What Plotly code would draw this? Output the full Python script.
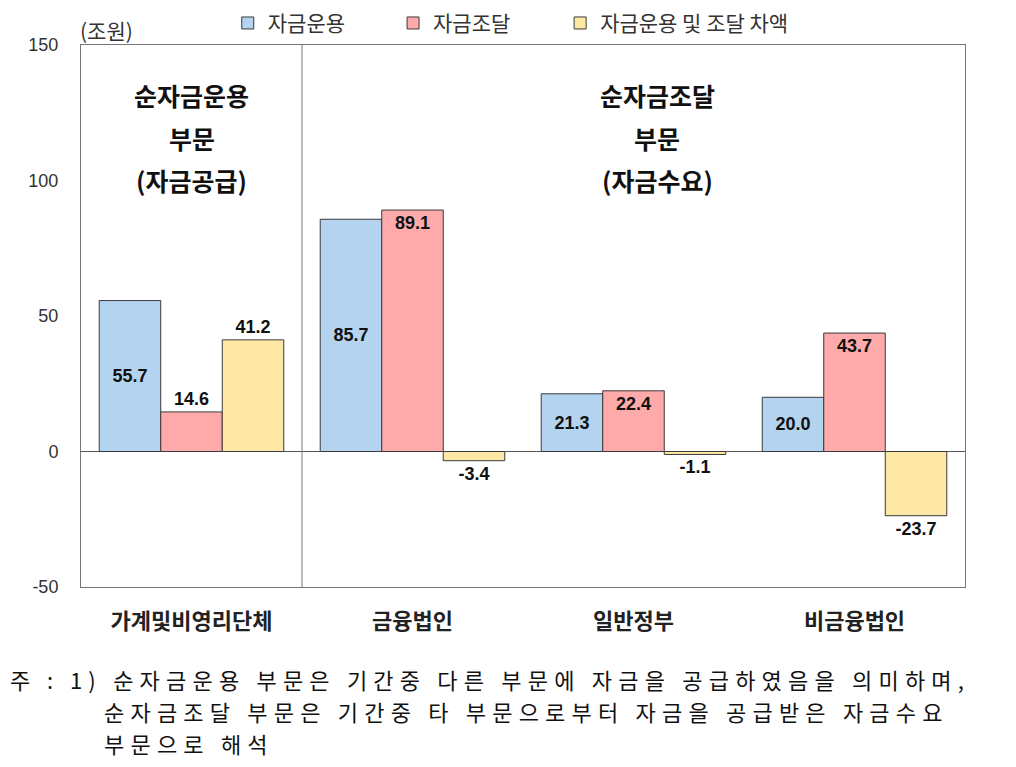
import plotly.graph_objects as go

categories = ["가계및비영리단체", "금융법인", "일반정부", "비금융법인"]
series_names = ["자금운용", "자금조달", "자금운용 및 조달 차액"]
uses = [55.7, 85.7, 21.3, 20.0]
sources = [14.6, 89.1, 22.4, 43.7]
net = [41.2, -3.4, -1.1, -23.7]
y_ticks = [-50, 0, 50, 100, 150]
y_tick_text = [str(v) for v in y_ticks]

colors = ["#B4D3EE", "#FFAAAA", "#FFE7A6"]
KR = "Noto Sans CJK KR"
NUM = "Liberation Sans"
LBL = dict(family=NUM, size=18, color="#111111", weight="bold")

fig = go.Figure()
fig.add_trace(go.Bar(
    x=categories, y=uses, name=series_names[0], legend="legend",
    marker=dict(color=colors[0], line=dict(color="#3a3a3a", width=1)),
    text=[f"{v:.1f}" for v in uses], textposition="inside", insidetextanchor="middle",
))
fig.add_trace(go.Bar(
    x=categories, y=sources, name=series_names[1], legend="legend2",
    marker=dict(color=colors[1], line=dict(color="#3a3a3a", width=1)),
    text=[f"{v:.1f}" for v in sources],
    textposition=["outside", "inside", "inside", "inside"], insidetextanchor="end",
))
fig.add_trace(go.Bar(
    x=categories, y=net, name=series_names[2], legend="legend3",
    marker=dict(color=colors[2], line=dict(color="#3a3a3a", width=1)),
    text=[f"{v:.1f}" for v in net], textposition="outside",
))
fig.update_traces(
    textfont=LBL, insidetextfont=LBL, outsidetextfont=LBL,
    textangle=0, constraintext="none", cliponaxis=False,
)

LEG = dict(orientation="h", xanchor="left", y=1.04, yanchor="middle",
           font=dict(family=KR, size=21, color="#333333"), bgcolor="rgba(0,0,0,0)")

fig.update_layout(
    width=1000, height=751,
    margin=dict(l=73, r=43, t=37, b=172, autoexpand=False),
    paper_bgcolor="white", plot_bgcolor="white",
    barmode="group", bargap=0.165, bargroupgap=0,
    font=dict(family=KR, color="#333333"),
    showlegend=True,
    legend=dict(LEG, x=0.166),
    legend2=dict(LEG, x=0.353),
    legend3=dict(LEG, x=0.542),
    xaxis=dict(
        showline=True, mirror=True, linecolor="#777777", linewidth=1,
        showgrid=False, ticks="", ticklabelstandoff=15,
        tickfont=dict(family=KR, size=22, color="#222222", weight="bold"),
    ),
    yaxis=dict(
        range=[-50, 150], tickvals=y_ticks, ticktext=y_tick_text,
        showline=True, mirror=True, linecolor="#777777", linewidth=1,
        showgrid=False, zeroline=True, zerolinecolor="#555555", zerolinewidth=1,
        ticks="", ticklabelstandoff=18,
        tickfont=dict(family=NUM, size=18, color="#333333"),
    ),
)

# divider between net-supply and net-demand sectors
fig.add_shape(type="line", xref="x", yref="paper", x0=0.5, x1=0.5, y0=0, y1=1,
              line=dict(color="#777777", width=1))

ann = []
ann.append(dict(text="(조원)", xref="paper", yref="paper", x=-0.003, y=1.028, xanchor="left",
                yanchor="middle", showarrow=False, font=dict(family=KR, size=21, color="#333333")))
left_lines = ["순자금운용", "부문", "(자금공급)"]
right_lines = ["순자금조달", "부문", "(자금수요)"]
ys = [0.945, 0.866, 0.788]
for t, yy in zip(left_lines, ys):
    ann.append(dict(text=t, xref="x", yref="paper", x=categories[0], y=yy, showarrow=False,
                    font=dict(family=KR, size=25, color="#111111", weight="bold")))
for t, yy in zip(right_lines, ys):
    ann.append(dict(text=t, xref="paper", yref="paper", x=0.652, y=yy, showarrow=False,
                    font=dict(family=KR, size=25, color="#111111", weight="bold")))

NB = "\u00a0"
TH = "\u2009"
foot1 = "주" + TH + ":" + TH + "1)" + NB + NB.join(["순자금운용", "부문은", "기간중", "다른", "부문에", "자금을", "공급하였음을", "의미하며,"])
foot2 = NB.join(["순자금조달", "부문은", "기간중", "타", "부문으로부터", "자금을", "공급받은", "자금수요"])
foot3 = NB.join(["부문으로", "해석"])
FT = dict(family=KR, size=22, color="#111111")
first_foot = len(ann)
for txt, xx, yy in [(foot1, -0.0815, -0.1697), (foot2, 0.0249, -0.2288), (foot3, 0.0249, -0.2878)]:
    ann.append(dict(text=txt, xref="paper", yref="paper", x=xx, y=yy, xanchor="left", align="left",
                    yanchor="middle", showarrow=False, font=FT, borderpad=0))
fig.update_layout(annotations=ann)

post = """
[%d, %d, %d].forEach(function(i){
  var g = document.querySelector('.annotation[data-index="' + i + '"] .annotation-text');
  if (g) { g.style.letterSpacing = '6.2px'; }
});
""" % (first_foot, first_foot + 1, first_foot + 2)

fig.write_html("out.html", post_script=post)
